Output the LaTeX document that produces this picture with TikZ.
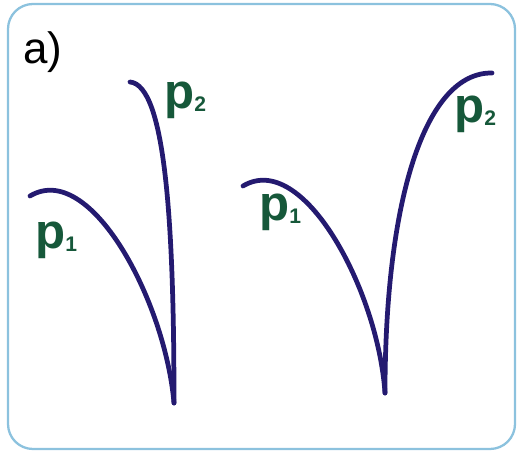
\documentclass[tikz,border=0pt]{standalone}
\usepackage{fontspec}
\setmainfont{Liberation Sans}
\usetikzlibrary{positioning}
\definecolor{framebl}{RGB}{140,194,222}
\definecolor{curvenavy}{RGB}{36,26,112}
\definecolor{labgreen}{RGB}{22,88,58}
\newcommand{\plab}[1]{\textbf{p}\raisebox{-1.5pt}{\fontsize{12}{13}\selectfont\bfseries #1}}

\begin{document}
\begin{tikzpicture}[x=0.02cm, y=-0.02cm, line cap=round,
    curve/.style={draw=curvenavy, line width=2.7pt},
    plabel/.style={text=labgreen, anchor=base west, inner sep=0pt, font=\fontsize{28}{30}\selectfont}]
    \useasboundingbox (0,0) rectangle (517,452);
    % Frame and tag
    \draw[framebl, line width=1.3pt, rounded corners=0.5cm] (8,4) rectangle (515,449);
    \node (tag) [anchor=base west, inner sep=0pt, font=\fontsize{25}{27}\selectfont] at (23,64) {a)};

    % Left pair (meeting at one tip)
    \coordinate (tipL) at (174,403);
    \coordinate (s1L) at (30,196);
    \coordinate (s2L) at (130,82);
    \draw[curve] (s1L) .. controls (90,160) and (165,300) .. (tipL);
    \draw[curve] (s2L) .. controls (165,85) and (174,220) .. (tipL);
    \node (p1L) [plabel] at (35,249) {\plab{1}};
    \node (p2L) [plabel] at (164,109) {\plab{2}};

    % Right pair
    \coordinate (tipR) at (385,393);
    \coordinate (s1R) at (243,186);
    \coordinate (s2R) at (492,73);
    \draw[curve] (s1R) .. controls (303,150) and (378,290) .. (tipR);
    \draw[curve] (tipR) .. controls (385,200) and (425,72) .. (s2R);
    \node (p1R) [plabel] at (259,221) {\plab{1}};
    \node (p2R) [plabel] at (454,123) {\plab{2}};
\end{tikzpicture}
\end{document}
